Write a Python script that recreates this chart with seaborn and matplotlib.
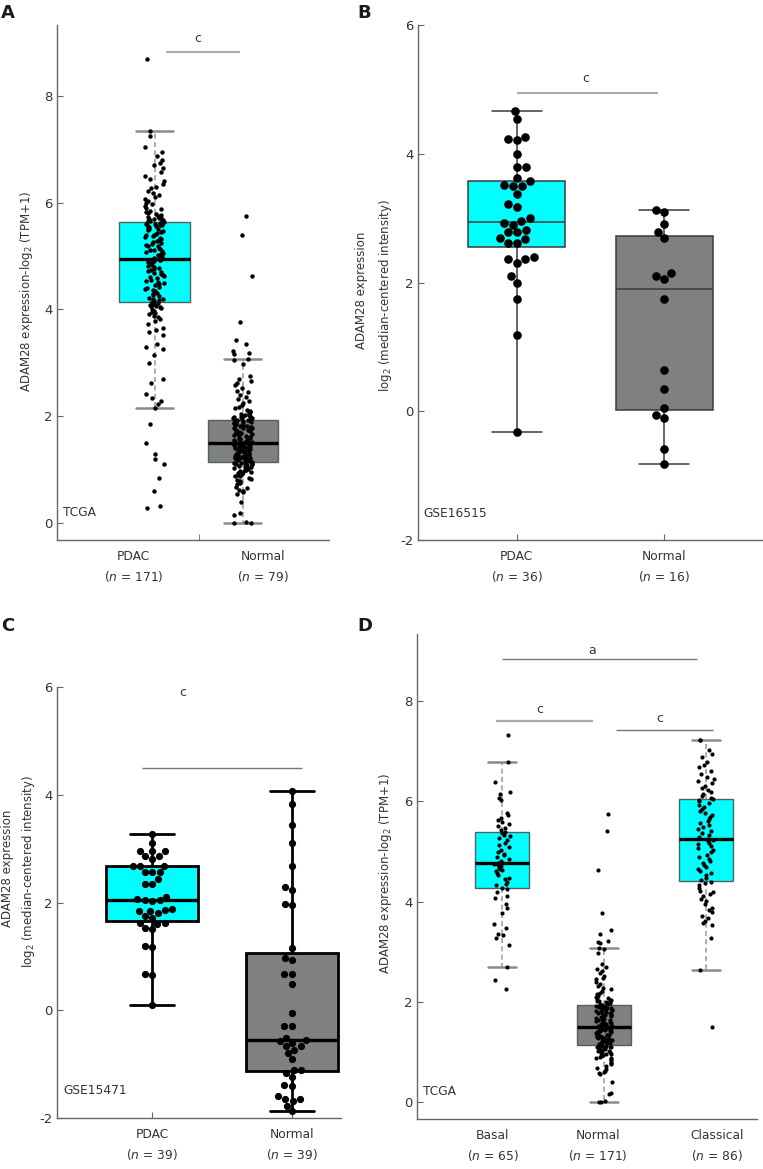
import numpy as np
import pandas as pd
import matplotlib
matplotlib.use("Agg")
import matplotlib.pyplot as plt
import seaborn as sns

# ---------------- data ----------------
# Panel A: TCGA PDAC vs normal, ADAM28 log2(TPM+1)
tcga_pdac = [
    0.28, 0.32, 0.60, 0.85, 1.10, 1.20, 1.30, 1.50, 1.85, 2.15, 2.22, 2.28, 2.35, 2.42,
    2.62, 2.70, 3.00, 3.15, 3.25, 3.30, 3.35, 3.52, 3.58, 3.62, 3.66, 3.72, 3.78, 3.82,
    3.85, 3.88, 3.91, 3.94, 3.96, 3.98, 4.00, 4.02, 4.04, 4.06, 4.07, 4.09, 4.10, 4.11, 4.12,
    4.14, 4.15, 4.17, 4.19, 4.20, 4.22, 4.25, 4.27, 4.29, 4.31, 4.34, 4.36, 4.38, 4.40,
    4.42, 4.45, 4.47, 4.49, 4.51, 4.53, 4.56, 4.58, 4.60, 4.62, 4.64, 4.66, 4.68, 4.70,
    4.72, 4.74, 4.76, 4.78, 4.80, 4.82, 4.84, 4.85, 4.87, 4.88, 4.90, 4.91, 4.92, 4.93, 4.94,
    4.96, 4.98, 5.00, 5.02, 5.03, 5.05, 5.07, 5.09, 5.11, 5.12, 5.14, 5.16, 5.18, 5.19,
    5.21, 5.23, 5.25, 5.27, 5.28, 5.30, 5.32, 5.34, 5.35, 5.37, 5.39, 5.40, 5.42, 5.44,
    5.45, 5.47, 5.48, 5.50, 5.51, 5.53, 5.54, 5.56, 5.57, 5.58, 5.59, 5.60, 5.61, 5.62, 5.63,
    5.65, 5.66, 5.67, 5.68, 5.69, 5.70, 5.71, 5.72, 5.73, 5.75, 5.77, 5.79, 5.81, 5.83,
    5.85, 5.88, 5.91, 5.94, 5.97, 6.00, 6.04, 6.07, 6.10, 6.15, 6.18, 6.22, 6.27, 6.30,
    6.35, 6.40, 6.45, 6.50, 6.58, 6.65, 6.70, 6.75, 6.80, 6.88, 6.95, 7.05, 7.25, 7.35, 8.70,
]
tcga_normal = [
    0.00, 0.00, 0.01, 0.15, 0.18, 0.39, 0.55, 0.58, 0.60, 0.62, 0.65, 0.68, 0.72, 0.75,
    0.78, 0.80, 0.83, 0.85, 0.87, 0.88, 0.90, 0.92, 0.93, 0.95, 0.96, 0.98, 0.99, 1.00,
    1.01, 1.02, 1.03, 1.04, 1.05, 1.06, 1.07, 1.08, 1.09, 1.10, 1.10, 1.11, 1.12, 1.12, 1.13,
    1.15, 1.16, 1.16, 1.17, 1.18, 1.19, 1.20, 1.21, 1.21, 1.22, 1.23, 1.24, 1.25, 1.26,
    1.27, 1.27, 1.28, 1.29, 1.30, 1.31, 1.32, 1.33, 1.34, 1.34, 1.35, 1.36, 1.37, 1.38,
    1.39, 1.40, 1.41, 1.42, 1.42, 1.43, 1.44, 1.45, 1.46, 1.47, 1.48, 1.48, 1.49, 1.50, 1.50,
    1.51, 1.51, 1.52, 1.54, 1.55, 1.55, 1.57, 1.58, 1.60, 1.60, 1.61, 1.63, 1.64, 1.64,
    1.66, 1.67, 1.68, 1.70, 1.70, 1.72, 1.73, 1.74, 1.75, 1.77, 1.77, 1.78, 1.80, 1.81,
    1.82, 1.83, 1.84, 1.85, 1.86, 1.87, 1.88, 1.88, 1.89, 1.90, 1.90, 1.91, 1.92, 1.92,
    1.94, 1.95, 1.96, 1.97, 1.98, 1.99, 2.00, 2.01, 2.02, 2.03, 2.04, 2.06, 2.08, 2.10,
    2.12, 2.15, 2.18, 2.21, 2.25, 2.28, 2.32, 2.36, 2.40, 2.45, 2.48, 2.52, 2.58, 2.62,
    2.66, 2.70, 2.75, 2.98, 3.05, 3.08, 3.17, 3.19, 3.22, 3.36, 3.43, 3.77, 4.62, 5.40, 5.75,
]
labels_A = ["PDAC", "Normal"]
n_A = [171, 79]

# Panel B: GSE16515
gse16515_pdac = [
    4.67, 4.54, 4.23, 4.26, 4.22, 4.00, 3.80, 3.80, 3.62, 3.57, 3.50, 3.52, 3.50, 3.38,
    3.22, 3.17, 3.00, 2.96, 2.90, 2.92, 2.81, 2.78, 2.79, 2.69, 2.67, 2.62, 2.61, 2.40,
    2.36, 2.37, 2.31, 2.10, 2.00, 1.75, 1.18, -0.33,
]
gse16515_normal = [
    3.13, 3.09, 2.91, 2.79, 2.69, 2.14, 2.10, 2.06, 1.75, 0.64, 0.34, 0.05, -0.06, -0.11,
    -0.59, -0.82,
]
n_B = [36, 16]

# Panel C: GSE15471
gse15471_pdac = [
    3.27, 3.10, 2.95, 2.95, 2.95, 2.86, 2.86, 2.80, 2.68, 2.68, 2.68, 2.57, 2.57, 2.57,
    2.43, 2.34, 2.34, 2.11, 2.07, 2.04, 2.04, 2.02, 1.88, 1.86, 1.84, 1.84, 1.80, 1.75,
    1.71, 1.62, 1.62, 1.60, 1.52, 1.50, 1.19, 1.17, 0.67, 0.65, 0.09,
]
gse15471_normal = [
    4.07, 3.83, 3.44, 3.10, 2.68, 2.29, 2.23, 1.97, 1.95, 1.15, 0.97, 0.93, 0.68, 0.67,
    0.48, -0.06, -0.29, -0.29, -0.51, -0.56, -0.58, -0.60, -0.66, -0.67, -0.73, -0.80,
    -0.91, -1.10, -1.10, -1.16, -1.23, -1.39, -1.40, -1.59, -1.64, -1.64, -1.68, -1.77, -1.87,
]
n_C = [39, 39]

# Panel D: TCGA subtypes
tcga_basal = [
    2.25, 2.43, 2.70, 3.14, 3.28, 3.33, 3.36, 3.48, 3.56, 3.78, 3.88, 3.96, 4.07, 4.12,
    4.20, 4.25, 4.28, 4.33, 4.36, 4.39, 4.45, 4.48, 4.52, 4.57, 4.61, 4.63, 4.65, 4.67,
    4.70, 4.72, 4.74, 4.76, 4.77, 4.80, 4.84, 4.88, 4.92, 4.95, 4.99, 5.03, 5.08, 5.12,
    5.17, 5.22, 5.26, 5.30, 5.33, 5.36, 5.38, 5.42, 5.47, 5.50, 5.54, 5.58, 5.62, 5.67,
    5.72, 5.77, 6.03, 6.07, 6.15, 6.18, 6.39, 6.78, 7.33,
]
tcga_classical = [
    1.50, 2.64, 3.27, 3.53, 3.58, 3.62, 3.68, 3.72, 3.80, 3.83, 3.88, 3.95, 4.01, 4.05,
    4.12, 4.15, 4.19, 4.22, 4.28, 4.33, 4.37, 4.40, 4.43, 4.47, 4.52, 4.56, 4.60, 4.64,
    4.68, 4.72, 4.77, 4.81, 4.85, 4.89, 4.93, 4.98, 5.02, 5.06, 5.10, 5.14, 5.17, 5.20,
    5.23, 5.25, 5.29, 5.33, 5.37, 5.41, 5.45, 5.49, 5.53, 5.57, 5.61, 5.65, 5.69, 5.73,
    5.77, 5.81, 5.85, 5.89, 5.93, 5.97, 6.00, 6.03, 6.05, 6.07, 6.10, 6.14, 6.19, 6.22,
    6.27, 6.30, 6.36, 6.40, 6.44, 6.48, 6.55, 6.60, 6.68, 6.72, 6.78, 6.89, 6.95, 7.03,
    7.22, 7.23,
]
labels_D = ["Basal", "Normal", "Classical"]
n_D = [65, 171, 86]

# ---------------- style ----------------
sns.set_style("ticks")
plt.rcParams["font.family"] = ["DejaVu Sans"]
plt.rcParams["mathtext.fontset"] = "dejavusans"
np.random.seed(7)

CYAN = "#00FFFF"
GRAY = "#808080"
TXT = "#333333"
W, H = 763, 1169
fig = plt.figure(figsize=(W / 100, H / 100), dpi=100)


def px_axes(x0, y0, x1, y1):
    return fig.add_axes([x0 / W, 1 - y1 / H, (x1 - x0) / W, (y1 - y0) / H])


def make_df(names, arrays):
    grp, val = [], []
    for nm, arr in zip(names, arrays):
        grp += [nm] * len(arr)
        val += list(arr)
    return pd.DataFrame({"group": grp, "value": val})


def style_axes(ax, yticks, ylim, xlim):
    ax.set_ylim(*ylim)
    ax.set_xlim(*xlim)
    ax.set_yticks(yticks)
    ax.set_yticklabels([str(t) for t in yticks])
    for s in ["top", "right"]:
        ax.spines[s].set_visible(False)
    for s in ["left", "bottom"]:
        ax.spines[s].set_color("#666666")
        ax.spines[s].set_linewidth(1.0)
    ax.tick_params(axis="y", direction="in", length=4, width=0.8, color="#666666",
                   labelsize=9.5, labelcolor=TXT, pad=3)
    ax.tick_params(axis="x", direction="in", length=4, width=0.8, color="#666666",
                   labelsize=8.8, labelcolor=TXT, pad=7)
    ax.set_xlabel("")
    ax.set_ylabel("")


def xlabels(names, ns):
    return [f"{nm}\n($\\it{{n}}$ = {n})" for nm, n in zip(names, ns)]


def set_xlab(ax, pos, labs):
    ax.set_xticks(pos)
    ax.set_xticklabels(labs, linespacing=1.55)


def sig(ax, x0, x1, y, tx, ty, s, color="#aaaaaa", lw=1.5):
    ax.plot([x0, x1], [y, y], color=color, lw=lw, solid_capstyle="butt", zorder=1)
    ax.text(tx, ty, s, ha="center", va="center", fontsize=9, color=TXT)


tcga_box_kw = dict(
    saturation=1, whis=1.5, showfliers=False, linecolor="#4f6161", linewidth=1.0,
    legend=False,
    medianprops=dict(color="black", linewidth=2.4),
    whiskerprops=dict(color="#a0a0a0", linestyle=(0, (3, 2)), linewidth=1.2),
    capprops=dict(color="#8a8a8a", linewidth=1.8),
)

# ---------------- Panel A ----------------
axA = px_axes(57, 25, 329, 540)
dfA = make_df(labels_A, [tcga_pdac, tcga_normal])
sns.boxplot(data=dfA, x="group", y="value", order=labels_A, hue="group",
            hue_order=labels_A, palette=[CYAN, GRAY], width=0.8, capwidths=0.42,
            ax=axA, **tcga_box_kw)
sns.stripplot(data=dfA, x="group", y="value", order=labels_A, color="black",
              size=3.2, jitter=0.11, linewidth=0, ax=axA, zorder=3)
style_axes(axA, [0, 2, 4, 6, 8], (-0.32, 9.33), (-1.11, 1.98))
set_xlab(axA, [-0.24, 1.23], xlabels(labels_A, n_A))
axA.tick_params(axis="x", which="major", length=0)
axA.set_xticks([0.5], minor=True)
axA.tick_params(axis="x", which="minor", direction="in", length=4, color="#666666")
sig(axA, 0.125, 0.97, 8.82, 0.49, 9.07, "c")
axA.text(0.022, 0.054, "TCGA", transform=axA.transAxes, fontsize=8.8, color=TXT,
         ha="left", va="center")

# ---------------- Panel B ----------------
axB = px_axes(418, 25, 763, 540)
dfB = make_df(labels_A, [gse16515_pdac, gse16515_normal])
sns.boxplot(data=dfB, x="group", y="value", order=labels_A, hue="group",
            hue_order=labels_A, palette=[CYAN, GRAY], saturation=1, width=0.66,
            whis=(0, 100), showfliers=False, linecolor="#3a3a3a", linewidth=1.1,
            capwidths=0.34, legend=False, ax=axB,
            medianprops=dict(color="#3a3a3a", linewidth=1.1))
sns.swarmplot(data=dfB, x="group", y="value", order=labels_A, color="black",
              size=6.2, linewidth=0, ax=axB, zorder=3)
style_axes(axB, [-2, 0, 2, 4, 6], (-2, 6), (-0.67, 1.67))
set_xlab(axB, [0, 1], xlabels(labels_A, n_B))
sig(axB, 0.0, 0.96, 4.95, 0.47, 5.17, "c")
axB.text(0.017, 0.052, "GSE16515", transform=axB.transAxes, fontsize=8.8, color=TXT,
         ha="left", va="center")

# ---------------- Panel C ----------------
axC = px_axes(57, 687, 341, 1118)
dfC = make_df(labels_A, [gse15471_pdac, gse15471_normal])
sns.boxplot(data=dfC, x="group", y="value", order=labels_A, hue="group",
            hue_order=labels_A, palette=[CYAN, GRAY], saturation=1, width=0.66,
            whis=(0, 100), showfliers=False, linecolor="black", linewidth=2.0,
            capwidths=0.31, legend=False, ax=axC,
            medianprops=dict(color="black", linewidth=2.4))
sns.swarmplot(data=dfC, x="group", y="value", order=labels_A, color="black",
              size=5.2, linewidth=0, ax=axC, zorder=3)
style_axes(axC, [-2, 0, 2, 4, 6], (-2, 6), (-0.68, 1.35))
set_xlab(axC, [0, 1], xlabels(labels_A, n_C))
sig(axC, -0.07, 1.07, 4.5, 0.22, 5.89, "c", color="#777777", lw=1.0)
axC.text(0.021, 0.063, "GSE15471", transform=axC.transAxes, fontsize=8.8, color=TXT,
         ha="left", va="center")

# ---------------- Panel D ----------------
axD = px_axes(417, 634, 757, 1119)
dfD = make_df(labels_D, [tcga_basal, tcga_normal, tcga_classical])
sns.boxplot(data=dfD, x="group", y="value", order=labels_D, hue="group",
            hue_order=labels_D, palette=[CYAN, GRAY, CYAN], width=0.53, capwidths=0.27,
            ax=axD, **tcga_box_kw)
sns.stripplot(data=dfD, x="group", y="value", order=labels_D, color="black",
              size=3.0, jitter=0.08, linewidth=0, ax=axD, zorder=3)
style_axes(axD, [0, 2, 4, 6, 8], (-0.34, 9.34), (-0.83, 2.5))
set_xlab(axD, [-0.09, 0.94, 2.11], xlabels(labels_D, n_D))
axD.tick_params(axis="x", which="major", length=0)
sig(axD, 0.0, 1.91, 8.84, 0.89, 9.02, "a", color="#777777", lw=1.0)
sig(axD, -0.06, 0.89, 7.60, 0.37, 7.84, "c", color="#aaaaaa", lw=1.6)
sig(axD, 1.12, 2.07, 7.42, 1.55, 7.66, "c", color="#777777", lw=1.0)
axD.text(0.018, 0.056, "TCGA", transform=axD.transAxes, fontsize=8.8, color=TXT,
         ha="left", va="center")

# ---------------- y labels & panel letters ----------------
lab_tpm = "ADAM28 expression-log$_2$ (TPM+1)"
lab_l1 = "ADAM28 expression"
lab_l2 = "log$_2$ (median-centered intensity)"
yl = dict(rotation=90, ha="center", va="center", fontsize=8.5, color=TXT)
fig.text(27 / W, 1 - 291 / H, lab_tpm, **yl)
fig.text(362 / W, 1 - 290 / H, lab_l1, **yl)
fig.text(386 / W, 1 - 296 / H, lab_l2, **yl)
fig.text(8 / W, 1 - 868 / H, lab_l1, **yl)
fig.text(29 / W, 1 - 872 / H, lab_l2, **yl)
fig.text(386 / W, 1 - 873 / H, lab_tpm, **yl)

pl = dict(fontsize=13, fontweight="bold", ha="left", va="top", color="#1a1a1a")
fig.text(1 / W, 1 - 4 / H, "A", **pl)
fig.text(357 / W, 1 - 4 / H, "B", **pl)
fig.text(1 / W, 1 - 617 / H, "C", **pl)
fig.text(357 / W, 1 - 617 / H, "D", **pl)

fig.savefig("out.png", dpi=100)
